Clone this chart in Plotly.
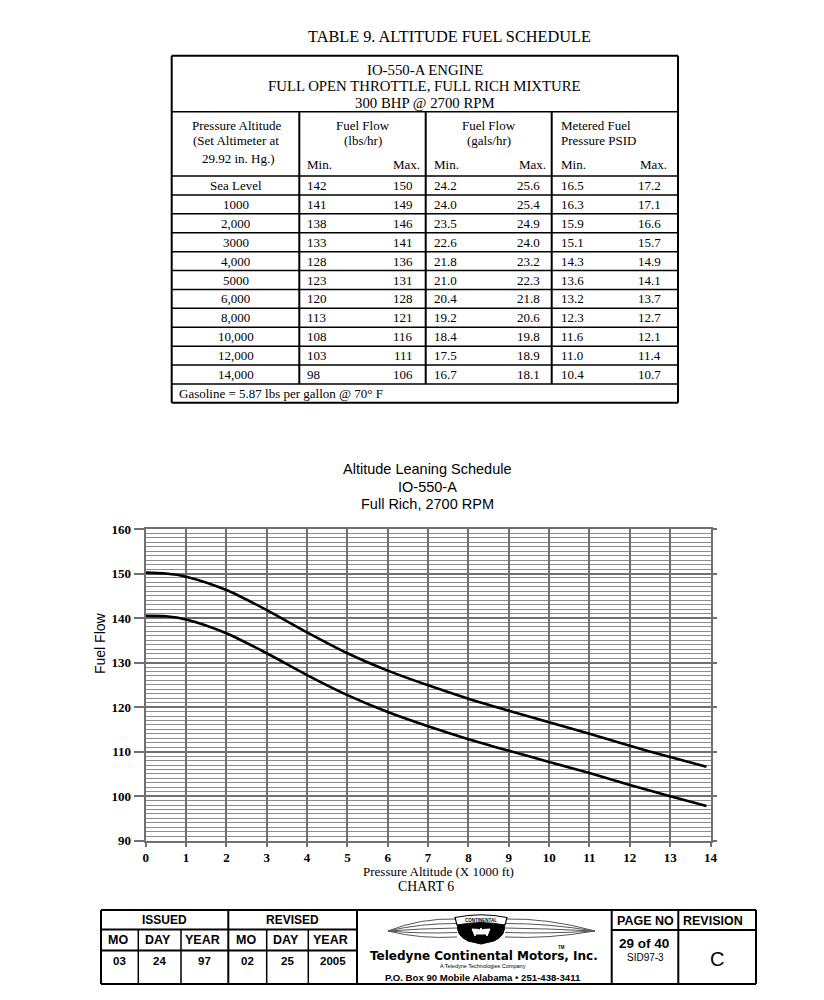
import plotly.graph_objects as go

W, H = 816, 992

# ---- table 9 data ----
altitudes = ["Sea Level", "1000", "2,000", "3000", "4,000", "5000",
             "6,000", "8,000", "10,000", "12,000", "14,000"]
lbs_min = [142, 141, 138, 133, 128, 123, 120, 113, 108, 103, 98]
lbs_max = [150, 149, 146, 141, 136, 131, 128, 121, 116, 111, 106]
gal_min = [24.2, 24.0, 23.5, 22.6, 21.8, 21.0, 20.4, 19.2, 18.4, 17.5, 16.7]
gal_max = [25.6, 25.4, 24.9, 24.0, 23.2, 22.3, 21.8, 20.6, 19.8, 18.9, 18.1]
psid_min = [16.5, 16.3, 15.9, 15.1, 14.3, 13.6, 13.2, 12.3, 11.6, 11.0, 10.4]
psid_max = [17.2, 17.1, 16.6, 15.7, 14.9, 14.1, 13.7, 12.7, 12.1, 11.4, 10.7]

# ---- chart 6 data ----
alt_kft = [0, 0.5, 1, 2, 3, 4, 5, 6, 7, 8, 9, 10, 11, 12, 13, 13.9]
flow_max = [150.2, 150.0, 149.3, 146.3, 141.8, 136.8, 132.1, 128.2,
            124.9, 121.9, 119.2, 116.6, 114.0, 111.3, 108.8, 106.6]
flow_min = [140.5, 140.4, 139.7, 136.6, 132.1, 127.2, 122.7, 118.9,
            115.7, 112.8, 110.2, 107.7, 105.2, 102.5, 100.0, 97.8]
x_ticks = list(range(0, 15))
y_ticks = [90, 100, 110, 120, 130, 140, 150, 160]

# ---- footer data ----
issued = ["03", "24", "97"]
revised = ["02", "25", "2005"]
page_no = "29 of 40"
doc_id = "SID97-3"
revision = "C"

SERIF = "Liberation Serif, Times New Roman, serif"
SANS = "Liberation Sans, Arial, sans-serif"
HEAVY = "DejaVu Sans, Verdana, sans-serif"

# page pixel -> figure paper (page body has an 8px margin)
OFF = 8


def px(x):
    return (x - OFF) / W


def py(y):
    return 1 - (y - OFF) / H


def pt(x, y):
    return f"{px(x):.5f},{py(y):.5f}"


shapes = []
annotations = []


def line(x0, y0, x1, y1, w=1.5, color="black"):
    shapes.append(dict(type="line", xref="paper", yref="paper",
                       x0=px(x0), y0=py(y0), x1=px(x1), y1=py(y1),
                       line=dict(color=color, width=w)))


def text(x, y, s, size=13, font=SERIF, anchor="center", color="black", bold=False, angle=0):
    if bold:
        s = f"<b>{s}</b>"
    annotations.append(dict(xref="paper", yref="paper", x=px(x), y=py(y),
                            text=s, showarrow=False, xanchor=anchor, yanchor="middle",
                            textangle=angle, borderpad=0,
                            font=dict(family=font, size=size, color=color)))


def path(d, fill="black", lc="black", lw=1):
    shapes.append(dict(type="path", xref="paper", yref="paper", path=d,
                       fillcolor=fill, line=dict(color=lc, width=lw)))


# ---- table ----
text(450, 37, "TABLE 9. ALTITUDE FUEL SCHEDULE", size=16.3)
L, R, T, B = 171.7, 678, 55.7, 402.7
line(L, T, R, T, 2)
line(L, B, R, B, 2)
line(L, T, L, B, 2)
line(R, T, R, B, 2)
line(L, 111.7, R, 111.7, 1.5)
row_top = 176
rh = (384 - row_top) / 11
for i in range(12):
    line(L, row_top + i * rh, R, row_top + i * rh, 1.5)
col_x = [299.3, 425.7, 551.7]
for cx in col_x:
    line(cx, 111.7, cx, 384, 2)

text(425, 70, "IO-550-A ENGINE", size=14.8)
text(425, 86.5, "FULL OPEN THROTTLE, FULL RICH MIXTURE", size=14.8)
text(425, 103, "300 BHP @ 2700 RPM", size=14.8)

text(236, 126, "Pressure Altitude")
text(236, 141, "(Set Altimeter at")
text(238, 158, "29.92 in. Hg.)")
text(362.5, 126, "Fuel Flow")
text(362.5, 141, "(lbs/hr)")
text(488.7, 126, "Fuel Flow")
text(488.7, 141, "(gals/hr)")
text(559.5, 126, "Metered Fuel", anchor="left")
text(559.5, 141, "Pressure PSID", anchor="left")
for lx, rx in [(306, 420.5), (432.5, 546.5), (560, 667.5)]:
    text(lx, 165, "Min.", anchor="left")
    text(rx, 165, "Max.", anchor="right")

for i, alt in enumerate(altitudes):
    yc = row_top + (i + 0.5) * rh
    text(235.5, yc, alt)
    text(306, yc, str(lbs_min[i]), anchor="left")
    text(413.5, yc, str(lbs_max[i]), anchor="right")
    text(432.5, yc, f"{gal_min[i]:.1f}", anchor="left")
    text(540.5, yc, f"{gal_max[i]:.1f}", anchor="right")
    text(560, yc, f"{psid_min[i]:.1f}", anchor="left")
    text(662, yc, f"{psid_max[i]:.1f}", anchor="right")
text(178, 393.5, "Gasoline = 5.87 lbs per gallon @ 70° F", anchor="left")

# ---- chart labels ----
text(428, 469, "Altitude Leaning Schedule", size=14.5, font=SANS)
text(428, 487, "IO-550-A", size=14.5, font=SANS)
text(428, 504, "Full Rich, 2700 RPM", size=14.5, font=SANS)
text(100, 643, "Fuel Flow", size=14, font=SANS, angle=-90)
text(438.5, 871, "Pressure Altitude (X 1000 ft)", size=13)
text(426, 886, "CHART 6", size=13.8)

# ---- footer ----
FL, FR, FT, FB = 101, 756, 910, 984
line(FL, FT, FR, FT, 2)
line(FL, FB, FR, FB, 2)
line(FL, FT, FL, FB, 2)
line(FR, FT, FR, FB, 2)
line(FL, 929.5, 357, 929.5, 2)
line(FL, 950.5, 357, 950.5, 2)
line(611.7, 930, FR, 930, 2)
for cx in [138.3, 181, 266.7, 308.3]:
    line(cx, 929.5, cx, FB, 1.5)
for cx in [228.3, 357, 611.7, 678.3]:
    line(cx, FT, cx, FB, 2)

text(164.7, 920, "ISSUED", size=12, font=SANS, bold=True)
text(292.6, 920, "REVISED", size=12, font=SANS, bold=True)
cells = [101, 138.3, 181, 228.3, 266.7, 308.3, 357]
labels = ["MO", "DAY", "YEAR", "MO", "DAY", "YEAR"]
vals = issued + revised
for i in range(6):
    cc = (cells[i] + cells[i + 1]) / 2
    text(cc - 2, 939.5, labels[i], size=12.5, font=SANS, bold=True)
    text(cc, 961, vals[i], size=11.5, font=SANS, bold=True)

text(645, 920.5, "PAGE NO", size=12.5, font=SANS, bold=True)
text(681.5, 920.5, "REVISION", size=12.5, font=SANS, bold=True, anchor="left")
text(643.5, 943.5, page_no, size=13.5, font=SANS, bold=True)
text(645, 957, doc_id, size=10, font=SANS)
text(717, 958.5, revision, size=20, font=SANS)

# logo: wings, shield, emblem
cxl = 481
for k, ys in enumerate([919, 923.5, 928, 932.5, 937]):
    path(f"M {pt(457, ys)} Q {pt(420, ys - 1 + k * 0.8)} {pt(388, 931)}", fill="rgba(0,0,0,0)", lc="#555", lw=1)
    path(f"M {pt(505, ys)} Q {pt(548, ys - 1 + k * 0.8)} {pt(595, 931)}", fill="rgba(0,0,0,0)", lc="#555", lw=1)
path(f"M {pt(458, 923)} L {pt(504, 923)} Q {pt(507, 935)} {pt(494, 941)} L {pt(481, 944)} "
     f"L {pt(468, 941)} Q {pt(455, 935)} {pt(458, 923)} Z", fill="black")
path(f"M {pt(455, 917.5)} Q {pt(cxl, 912)} {pt(507, 917.5)} L {pt(505, 925)} "
     f"Q {pt(cxl, 920)} {pt(457, 925)} Z", fill="white", lc="black", lw=1.2)
text(cxl, 920, "CONTINENTAL", size=4.5, font=SANS, bold=True)
path(f"M {pt(481, 928)} L {pt(477, 934)} L {pt(485, 934)} Z", fill="white", lc="white")
path(f"M {pt(472, 929)} L {pt(479, 929.5)} L {pt(475, 936)} Z", fill="white", lc="white")
path(f"M {pt(490, 929)} L {pt(483, 929.5)} L {pt(487, 936)} Z", fill="white", lc="white")
text(561, 947, "TM", size=4.5, font=SANS, bold=True)
text(484, 955.5, "Teledyne Continental Motors, Inc.", size=12, font=HEAVY, bold=True)
text(483, 966, "A Teledyne Technologies Company", size=5.5, font=SANS)
text(482.5, 977, "P.O. Box 90 Mobile Alabama \u2022 251-438-3411", size=9.6,
     font=SANS, bold=True)

# ---- chart traces ----
fig = go.Figure()
fig.add_trace(go.Scatter(x=alt_kft, y=flow_max, mode="lines", line_shape="spline",
                         line=dict(color="black", width=2.6, smoothing=0.8),
                         hoverinfo="x+y", showlegend=False))
fig.add_trace(go.Scatter(x=alt_kft, y=flow_min, mode="lines", line_shape="spline",
                         line=dict(color="black", width=2.6, smoothing=0.8),
                         hoverinfo="x+y", showlegend=False))
# anchor trace for the right-hand tick axis
fig.add_trace(go.Scatter(x=[0], y=[90], yaxis="y3", mode="markers",
                         marker=dict(opacity=0), hoverinfo="skip", showlegend=False))

x0p, x1p = 145.7, 710.5
y_top, y_bot = 529, 840.7
grid = "#707070"
fig.update_layout(
    width=W, height=H,
    margin=dict(l=0, r=0, t=0, b=0),
    paper_bgcolor="white", plot_bgcolor="white",
    showlegend=False,
    xaxis=dict(domain=[px(x0p), px(x1p)], range=[0, 14], tickvals=x_ticks,
               showgrid=True, gridcolor=grid, gridwidth=2.2, zeroline=False,
               showline=True, linecolor=grid, linewidth=2, mirror=True,
               ticks="outside", ticklen=4, tickwidth=2, tickcolor=grid,
               tickfont=dict(family=SERIF, size=13, color="black", weight="bold"),
               automargin=False, fixedrange=True),
    yaxis=dict(domain=[py(y_bot), py(y_top)], range=[90, 160], tickvals=y_ticks,
               showgrid=True, gridcolor=grid, gridwidth=1.5, zeroline=False,
               showline=True, linecolor=grid, linewidth=2, mirror=True,
               ticks="outside", ticklen=10, tickwidth=1.5, tickcolor=grid,
               tickfont=dict(family=SERIF, size=13, color="black", weight="bold"),
               minor=dict(dtick=1, showgrid=True, gridcolor="#8c8c8c", gridwidth=1),
               automargin=False, fixedrange=True),
    yaxis3=dict(overlaying="y", side="right", anchor="x", range=[90, 160],
                tickvals=y_ticks, showticklabels=False, showgrid=False, zeroline=False,
                ticks="outside", ticklen=5, tickwidth=1.5, tickcolor=grid,
                automargin=False, fixedrange=True),
    shapes=shapes,
    annotations=annotations,
)

fig.write_html("out.html")
